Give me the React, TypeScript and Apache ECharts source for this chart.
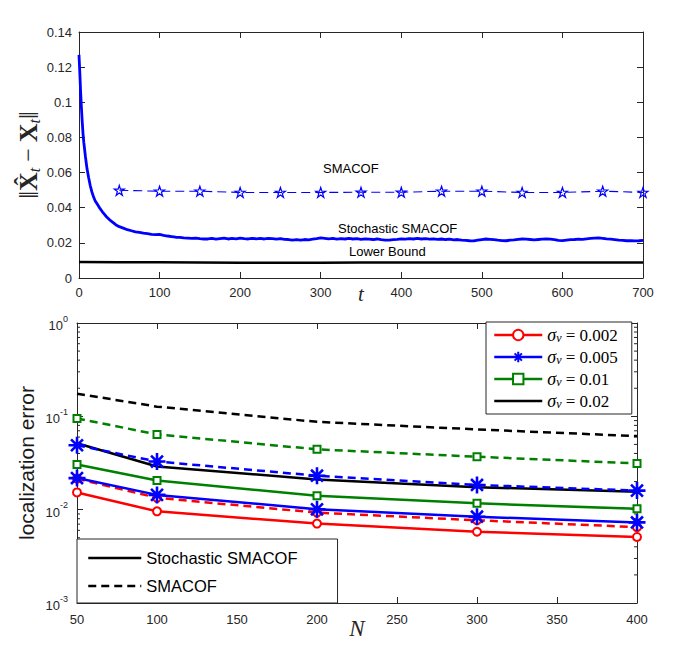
import React, { useEffect, useRef } from "react";
import * as echarts from "echarts";

// ---------- Top panel data ----------
const tStoch = [
  0, 1, 2, 3, 4, 5, 6, 8, 10, 12, 14, 16, 18, 20, 23, 26, 29, 32, 35, 38, 42, 46,
  50, 55, 60, 65, 70, 75, 80, 85, 90, 95, 100, 105, 110, 115, 120, 125, 130, 135, 140, 145, 150, 155,
  160, 165, 170, 175, 180, 185, 190, 195, 200, 205,
  210, 215, 220, 225, 230, 235, 240, 245, 250, 255,
  260, 265, 270, 275, 280, 285, 290, 295, 300, 305,
  310, 315, 320, 325, 330, 335, 340, 345, 350, 355,
  360, 365, 370, 375, 380, 385, 390, 395, 400, 405,
  410, 415, 420, 425, 430, 435, 440, 445, 450, 455,
  460, 465, 470, 475, 480, 485, 490, 495, 500, 505,
  510, 515, 520, 525, 530, 535, 540, 545, 550, 555,
  560, 565, 570, 575, 580, 585, 590, 595, 600, 605,
  610, 615, 620, 625, 630, 635, 640, 645, 650, 655,
  660, 665, 670, 675, 680, 685, 690, 695, 700,
];
const vStoch = [
  0.127, 0.117, 0.106, 0.097, 0.089, 0.082, 0.077, 0.069, 0.062, 0.057, 0.0525, 0.049, 0.0462, 0.044,
  0.0418, 0.0396, 0.0377, 0.036, 0.0344, 0.0331, 0.0317, 0.0302,
  0.0292, 0.0284, 0.0275, 0.0269, 0.0263, 0.0259, 0.0255, 0.0252, 0.0248, 0.0247, 0.0248, 0.0243,
  0.0239, 0.0236, 0.0232, 0.0231, 0.0228, 0.0227, 0.0225, 0.0227, 0.0224, 0.0222,
  0.0222, 0.0226, 0.0221, 0.0224, 0.0227, 0.0222, 0.0225, 0.0223, 0.0227, 0.0224,
  0.0222, 0.0226, 0.0223, 0.0225, 0.0222, 0.0226, 0.0224, 0.0221, 0.0224, 0.022,
  0.0219, 0.0216, 0.0218, 0.0215, 0.0219, 0.0217, 0.0221, 0.0224, 0.0228, 0.0226,
  0.0223, 0.0225, 0.0221, 0.0224, 0.0222, 0.0225, 0.0222, 0.0224, 0.022, 0.0223,
  0.0221, 0.0219, 0.0222, 0.0218, 0.0216, 0.0215, 0.0218, 0.022, 0.0223, 0.0221,
  0.0224, 0.0222, 0.0225, 0.0222, 0.0224, 0.0221, 0.0223, 0.022, 0.0222, 0.0219,
  0.0221, 0.0217, 0.0219, 0.0215, 0.0214, 0.0212, 0.0211, 0.0215, 0.0219, 0.0222,
  0.022, 0.0218, 0.0215, 0.0213, 0.0212, 0.0215, 0.0217, 0.022, 0.0222, 0.0221,
  0.0219, 0.0217, 0.0219, 0.0221, 0.0222, 0.0221, 0.0218, 0.0214, 0.0213, 0.0216,
  0.0218, 0.0219, 0.0221, 0.022, 0.0223, 0.0225, 0.0227, 0.0228, 0.0226, 0.0223,
  0.0221, 0.0218, 0.0215, 0.0214, 0.0212, 0.0213, 0.0211, 0.0212, 0.0214,
];
const tSmacof = [50, 100, 150, 200, 250, 300, 350, 400, 450, 500, 550, 600, 650, 700];
const vSmacof = [0.0499, 0.0494, 0.0494, 0.0487, 0.0487, 0.0487, 0.0488, 0.0488, 0.0494, 0.0494, 0.0487, 0.0487, 0.0494, 0.0487];
const tLower = [0, 50, 100, 150, 200, 250, 300, 350, 400, 450, 500, 550, 600, 650, 700];
const vLower = [0.0091, 0.009, 0.0089, 0.0088, 0.0087, 0.0087, 0.0087, 0.0088, 0.0088, 0.0088, 0.0088, 0.0088, 0.0088, 0.0088, 0.0088];

// ---------- Bottom panel data ----------
const nValues = [50, 100, 200, 300, 400];
const sigmaLabels = ["0.002", "0.005", "0.01", "0.02"];
const stoch002 = [0.0153, 0.0096, 0.0071, 0.0058, 0.0051];
const smacof002 = [0.0215, 0.0134, 0.0093, 0.0077, 0.0065];
const stoch005 = [0.0218, 0.0144, 0.0101, 0.0084, 0.0073];
const smacof005 = [0.049, 0.0328, 0.0231, 0.0184, 0.016];
const stoch01 = [0.0305, 0.0205, 0.0141, 0.0117, 0.0102];
const smacof01 = [0.095, 0.064, 0.0443, 0.0369, 0.0313];
const stoch02 = [0.0514, 0.029, 0.0211, 0.0174, 0.0156];
const smacof02 = [0.175, 0.127, 0.0873, 0.0724, 0.0614];
const methodLabels = ["Stochastic SMACOF", "SMACOF"];
const minorLogTicks = [
  0.002, 0.003, 0.004, 0.005, 0.006, 0.007, 0.008, 0.009,
  0.02, 0.03, 0.04, 0.05, 0.06, 0.07, 0.08, 0.09,
  0.2, 0.3, 0.4, 0.5, 0.6, 0.7, 0.8, 0.9,
];

const AX = "#262626";
const SANS = "'Liberation Sans', Arial, Helvetica, sans-serif";
const SERIF = "'Liberation Serif', 'DejaVu Serif', serif";
const RED = "#ff0000";
const BLUE = "#0000ff";
const GREEN = "#008000";
const BLACK = "#000000";
const DASH = [8, 5];

const STAR =
  "path://M10,0L12.245,6.91L19.51,6.91L13.633,11.18L15.88,18.09L10,13.82L4.12,18.09L6.367,11.18L0.49,6.91L7.755,6.91Z";
const ASTERISK = "path://M10,0L10,20M0,10L20,10M3,3L17,17M3,17L17,3";

function zip(xs: number[], ys: number[]) {
  return xs.map((x, i) => [x, ys[i]]);
}

function frameAxis(extra: any) {
  return {
    axisLine: { show: true, onZero: false, lineStyle: { color: AX, width: 1 } },
    axisTick: { show: true, inside: true, length: 6, lineStyle: { color: AX, width: 1 } },
    splitLine: { show: false },
    axisLabel: { show: false },
    nameMoveOverlap: false,
    ...extra,
  };
}

const labelStyle = { show: true, fontSize: 13, color: AX, fontFamily: SANS };

function bottomSeries(name: string, values: number[], color: string, dashed: boolean, symbol: string, size: number, bw = 2) {
  return {
    type: "line",
    name,
    xAxisIndex: 2,
    yAxisIndex: 2,
    data: zip(nValues, values),
    symbol,
    symbolSize: size,
    showSymbol: symbol !== "none",
    lineStyle: { color, width: 2.5, type: dashed ? DASH : "solid" },
    itemStyle: { color, borderColor: color, borderWidth: bw },
    emphasis: { disabled: true },
    z: 3,
  };
}

export default function App() {
  const ref = useRef<HTMLDivElement>(null);

  useEffect(() => {
    const chart = echarts.init(ref.current!, null, { renderer: "svg" });

    const option: any = {
      animation: false,
      backgroundColor: "#ffffff",
      grid: [
        { left: 79, top: 32, width: 564, height: 246 },
        { left: 77, top: 323, width: 560, height: 280 },
      ],
      xAxis: [
        frameAxis({
          gridIndex: 0,
          type: "value",
          min: 0,
          max: 700,
          interval: 100,
          position: "bottom",
          axisLabel: { ...labelStyle, margin: 8 },
          name: "t",
          nameLocation: "middle",
          nameGap: 5,
          nameTextStyle: { fontFamily: SERIF, fontStyle: "italic", fontSize: 21, color: AX },
        }),
        frameAxis({ gridIndex: 0, type: "value", min: 0, max: 700, interval: 100, position: "top" }),
        frameAxis({
          gridIndex: 1,
          type: "value",
          min: 50,
          max: 400,
          interval: 50,
          position: "bottom",
          axisLabel: { ...labelStyle, margin: 10 },
          name: "N",
          nameLocation: "middle",
          nameGap: 14,
          nameTextStyle: { fontFamily: SERIF, fontStyle: "italic", fontSize: 23, color: AX },
        }),
        frameAxis({ gridIndex: 1, type: "value", min: 50, max: 400, interval: 50, position: "top" }),
      ],
      yAxis: [
        frameAxis({
          gridIndex: 0,
          type: "value",
          min: 0,
          max: 0.14,
          interval: 0.02,
          position: "left",
          axisLabel: { ...labelStyle, margin: 7 },
          name: "{n|‖}{b|X\u0302}{s|t}{m| − }{b|X}{s|t}{n|‖}",
          nameLocation: "middle",
          nameRotate: 90,
          nameGap: 37,
          nameTextStyle: {
            fontFamily: SERIF,
            fontSize: 24,
            color: AX,
            rich: {
              n: { fontFamily: SERIF, fontSize: 28, color: AX, lineHeight: 28 },
              m: { fontFamily: SERIF, fontSize: 24, color: AX, lineHeight: 28 },
              b: { fontFamily: SERIF, fontWeight: "bold", fontSize: 26, color: AX, lineHeight: 28 },
              s: { fontFamily: SERIF, fontStyle: "italic", fontSize: 16, color: AX, verticalAlign: "bottom", lineHeight: 14 },
            },
          },
        }),
        frameAxis({ gridIndex: 0, type: "value", min: 0, max: 0.14, interval: 0.02, position: "right" }),
        frameAxis({
          gridIndex: 1,
          type: "log",
          logBase: 10,
          min: 0.001,
          max: 1,
          position: "left",
          axisLabel: {
            ...labelStyle,
            margin: 9,
            formatter: (v: number) => `{b|10}{p|${Math.round(Math.log10(v))}}`,
            rich: {
              b: { fontSize: 13, fontFamily: SANS, color: AX, lineHeight: 18, verticalAlign: "bottom" },
              p: { fontSize: 9, fontFamily: SANS, color: AX, lineHeight: 10, verticalAlign: "top" },
            },
          },
          name: "localization error",
          nameLocation: "middle",
          nameRotate: 90,
          nameGap: 40,
          nameTextStyle: { fontFamily: SANS, fontSize: 21, color: "#1a1a1a" },
        }),
        frameAxis({ gridIndex: 1, type: "log", logBase: 10, min: 0.001, max: 1, position: "right" }),
      ],
      legend: [
        {
          data: [
            { name: sigmaLabels[0] },
            { name: sigmaLabels[1] },
            { name: sigmaLabels[2] },
            { name: sigmaLabels[3], itemStyle: { opacity: 0 } },
          ],
          orient: "vertical",
          left: 486,
          top: 322,
          itemWidth: 48,
          itemHeight: 13,
          itemGap: 4,
          padding: [4, 14, 4, 7],
          borderColor: AX,
          borderWidth: 1,
          borderRadius: 0,
          backgroundColor: "#ffffff",
          selectedMode: false,
          lineStyle: { width: 2.5 },
          formatter: (name: string) => `{s|σ}{v|v}{e| = ${name}}`,
          textStyle: {
            fontFamily: SERIF,
            fontSize: 17,
            lineHeight: 17,
            color: "#000",
            rich: {
              s: { fontFamily: SERIF, fontStyle: "italic", fontSize: 18, color: "#000", lineHeight: 17 },
              v: { fontFamily: SERIF, fontStyle: "italic", fontSize: 12, color: "#000", lineHeight: 8, verticalAlign: "bottom" },
              e: { fontFamily: SERIF, fontSize: 17, color: "#000", lineHeight: 17 },
            },
          },
        },
        {
          data: [
            { name: methodLabels[0], itemStyle: { opacity: 0 } },
            { name: methodLabels[1], itemStyle: { opacity: 0 } },
          ],
          orient: "vertical",
          left: 77,
          top: 539,
          itemWidth: 53,
          itemHeight: 10,
          itemGap: 8,
          padding: [9, 40, 7, 10],
          borderColor: AX,
          borderWidth: 1,
          borderRadius: 0,
          backgroundColor: "#ffffff",
          selectedMode: false,
          lineStyle: { width: 2.5 },
          textStyle: { fontFamily: SANS, fontSize: 16.5, lineHeight: 20, color: "#000" },
        },
      ],
      graphic: [
        { type: "text", x: 323, y: 168, z: 10, style: { text: "SMACOF", fontSize: 13, fontFamily: SANS, fill: "#000", verticalAlign: "middle" } },
        { type: "text", x: 338, y: 228, z: 10, style: { text: "Stochastic SMACOF", fontSize: 13, fontFamily: SANS, fill: "#000", verticalAlign: "middle" } },
        { type: "text", x: 349, y: 251, z: 10, style: { text: "Lower Bound", fontSize: 13, fontFamily: SANS, fill: "#000", verticalAlign: "middle" } },
      ],
      series: [
        {
          type: "line",
          name: "Lower Bound (t)",
          xAxisIndex: 0,
          yAxisIndex: 0,
          data: zip(tLower, vLower),
          symbol: "none",
          lineStyle: { color: BLACK, width: 2.5 },
          itemStyle: { color: BLACK },
          emphasis: { disabled: true },
        },
        {
          type: "line",
          name: "Stochastic SMACOF (t)",
          xAxisIndex: 0,
          yAxisIndex: 0,
          data: zip(tStoch, vStoch),
          symbol: "none",
          lineStyle: { color: BLUE, width: 2.8 },
          itemStyle: { color: BLUE },
          emphasis: { disabled: true },
        },
        {
          type: "line",
          name: "SMACOF (t)",
          xAxisIndex: 0,
          yAxisIndex: 0,
          data: zip(tSmacof, vSmacof),
          symbol: STAR,
          symbolSize: 10,
          lineStyle: { color: BLUE, width: 1.1, type: [9, 5] },
          itemStyle: { color: "rgba(255,255,255,0)", borderColor: BLUE, borderWidth: 1.2 },
          emphasis: { disabled: true },
        },
        bottomSeries(sigmaLabels[0], stoch002, RED, false, "emptyCircle", 8),
        bottomSeries(sigmaLabels[0], smacof002, RED, true, "emptyCircle", 8),
        bottomSeries(sigmaLabels[2], stoch01, GREEN, false, "emptyRect", 7),
        bottomSeries(sigmaLabels[2], smacof01, GREEN, true, "emptyRect", 7),
        bottomSeries(sigmaLabels[3], stoch02, BLACK, false, "none", 0),
        bottomSeries(sigmaLabels[3], smacof02, BLACK, true, "none", 0),
        bottomSeries(sigmaLabels[1], stoch005, BLUE, false, ASTERISK, 17, 2.6),
        bottomSeries(sigmaLabels[1], smacof005, BLUE, true, ASTERISK, 17, 2.6),
        {
          type: "line",
          name: methodLabels[0],
          xAxisIndex: 2,
          yAxisIndex: 2,
          data: [],
          symbol: "circle",
          lineStyle: { color: BLACK, width: 2.5 },
          itemStyle: { color: BLACK },
        },
        {
          type: "line",
          name: methodLabels[1],
          xAxisIndex: 2,
          yAxisIndex: 2,
          data: [],
          symbol: "circle",
          lineStyle: { color: BLACK, width: 2.5, type: DASH },
          itemStyle: { color: BLACK },
        },
        {
          type: "custom",
          name: "minor ticks",
          xAxisIndex: 2,
          yAxisIndex: 2,
          silent: true,
          data: minorLogTicks.map((v) => [50, v]),
          encode: { x: 0, y: 1 },
          clip: false,
          renderItem: (params: any, api: any) => {
            const p = api.coord([50, api.value(1)]);
            const cs = params.coordSys;
            const st = { stroke: AX, lineWidth: 1 };
            return {
              type: "group",
              children: [
                { type: "line", shape: { x1: cs.x, y1: p[1], x2: cs.x + 3, y2: p[1] }, style: st },
                { type: "line", shape: { x1: cs.x + cs.width - 3, y1: p[1], x2: cs.x + cs.width, y2: p[1] }, style: st },
              ],
            };
          },
        },
      ],
    };

    chart.setOption(option);
    return () => chart.dispose();
  }, []);

  return (
    <div
      ref={ref}
      style={{ position: "fixed", left: 0, top: 0, width: 692, height: 645, background: "#fff" }}
    />
  );
}
